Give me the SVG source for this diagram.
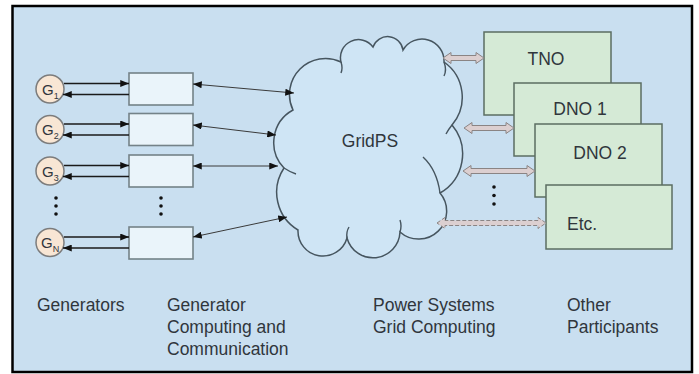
<svg xmlns="http://www.w3.org/2000/svg" width="699" height="374" viewBox="0 0 699 374">
<defs>
<marker id="ah" viewBox="0 0 10 8" refX="10" refY="4" markerWidth="9" markerHeight="7" markerUnits="userSpaceOnUse" orient="auto-start-reverse">
<path d="M0,0 L10,4 L0,8 Z" fill="#111"/>
</marker>
</defs>
<style>
.t{font-family:"Liberation Sans",Arial,sans-serif;fill:#30363c;font-size:17.5px}
.g{font-family:"Liberation Sans",Arial,sans-serif;fill:#30363c}
.gen{fill:#f8e6d4;stroke:#7c7c7c;stroke-width:1.5}
.gc{fill:#eaf4fa;stroke:#748288;stroke-width:1.6}
.op{fill:#d5ead6;stroke:#5b6e62;stroke-width:1.5}
.ln{stroke:#1a1a1a;stroke-width:1.4;fill:none}
.cl{stroke:#3a3a3a;stroke-width:1;fill:none}
.dbl{fill:#dccfd0;stroke:#8a8484;stroke-width:1}
.dot{fill:#111}
</style>
<rect x="0" y="0" width="699" height="374" fill="#fff"/>
<rect x="12.5" y="6" width="679.5" height="366" fill="#c9dff0" stroke="#000" stroke-width="2.5"/>

<g id="cloud">
<path d="M293,110 A36,36 0 0 1 341,62 A18,18 0 0 1 373,47 A15.5,15.5 0 0 1 403,50 A22,22 0 0 1 444,62 A43,43 0 0 1 452,125 A45,45 0 0 1 440,193 A28,28 0 0 1 400,232 A27,27 0 0 1 347,238 A25,25 0 0 1 298,230 A44,44 0 0 1 284,168 A37,37 0 0 1 293,110 Z" fill="#cfe5f5" stroke="#46555f" stroke-width="1.5"/>
<path d="M341,62 Q343,68 341,73 M444,62 Q447,70 444,76 M452,125 Q448,130 446,134 M423,157 Q437,170 440,193 M400,232 Q402,226 400,220 M347,238 Q346,232 349,227 M284,168 Q290,172 296,174" fill="none" stroke="#46555f" stroke-width="1.4"/>
<text class="t" x="370" y="147" text-anchor="middle">GridPS</text>
</g>

<g id="G1"><circle class="gen" cx="50" cy="89" r="14"/><text class="g" x="42" y="94.5" font-size="15">G<tspan font-size="9" dy="4">1</tspan></text></g>
<g id="G2"><circle class="gen" cx="50" cy="129.5" r="14"/><text class="g" x="42" y="135" font-size="15">G<tspan font-size="9" dy="4">2</tspan></text></g>
<g id="G3"><circle class="gen" cx="50" cy="171" r="14"/><text class="g" x="42" y="176.5" font-size="15">G<tspan font-size="9" dy="4">3</tspan></text></g>
<g id="GN"><circle class="gen" cx="50" cy="242.5" r="14"/><text class="g" x="41" y="248" font-size="15">G<tspan font-size="9" dy="4">N</tspan></text></g>

<g id="C1"><rect class="gc" x="129" y="73" width="64" height="32"/></g>
<g id="C2"><rect class="gc" x="129" y="113.5" width="64" height="32"/></g>
<g id="C3"><rect class="gc" x="129" y="155" width="64" height="32"/></g>
<g id="CN"><rect class="gc" x="129" y="227" width="64" height="32"/></g>

<g id="dots">
<circle class="dot" cx="56" cy="198" r="1.8"/><circle class="dot" cx="56" cy="206" r="1.8"/><circle class="dot" cx="56" cy="214" r="1.8"/>
<circle class="dot" cx="161" cy="198" r="1.8"/><circle class="dot" cx="161" cy="206" r="1.8"/><circle class="dot" cx="161" cy="214" r="1.8"/>
<circle class="dot" cx="494" cy="187" r="1.8"/><circle class="dot" cx="494" cy="195.5" r="1.8"/><circle class="dot" cx="494" cy="204" r="1.8"/>
</g>

<g id="TNO"><rect class="op" x="484" y="32" width="127" height="83"/><text class="t" x="546" y="65" text-anchor="middle">TNO</text></g>
<g id="DNO1"><rect class="op" x="514" y="83" width="127" height="73"/><text class="t" x="580" y="115" text-anchor="middle">DNO 1</text></g>
<g id="DNO2"><rect class="op" x="535" y="124" width="127" height="73"/><text class="t" x="600" y="159" text-anchor="middle">DNO 2</text></g>
<g id="Etc"><rect class="op" x="546" y="185" width="126" height="64"/><text class="t" x="567" y="230">Etc.</text></g>

<g id="connectors">
<line class="ln" x1="64" y1="83.5" x2="129" y2="83.5" marker-end="url(#ah)"/>
<line class="ln" x1="129" y1="94.5" x2="63" y2="94.5" marker-end="url(#ah)"/>
<line class="ln" x1="64" y1="124" x2="129" y2="124" marker-end="url(#ah)"/>
<line class="ln" x1="129" y1="135" x2="63" y2="135" marker-end="url(#ah)"/>
<line class="ln" x1="64" y1="165.5" x2="129" y2="165.5" marker-end="url(#ah)"/>
<line class="ln" x1="129" y1="176.5" x2="63" y2="176.5" marker-end="url(#ah)"/>
<line class="ln" x1="64" y1="237" x2="129" y2="237" marker-end="url(#ah)"/>
<line class="ln" x1="129" y1="248" x2="63" y2="248" marker-end="url(#ah)"/>

<line class="cl" x1="193" y1="84" x2="294" y2="93" marker-start="url(#ah)" marker-end="url(#ah)"/>
<line class="cl" x1="193" y1="125" x2="276" y2="135" marker-start="url(#ah)" marker-end="url(#ah)"/>
<line class="cl" x1="193" y1="166" x2="278" y2="166" marker-start="url(#ah)" marker-end="url(#ah)"/>
<line class="cl" x1="193" y1="237" x2="287" y2="217" marker-start="url(#ah)" marker-end="url(#ah)"/>

<path class="dbl" d="M443,58 L451,52.5 L451,55.5 L476,55.5 L476,52.5 L484,58 L476,63.5 L476,60.5 L451,60.5 L451,63.5 Z"/>
<path class="dbl" d="M464,128 L472,122.5 L472,125.5 L506,125.5 L506,122.5 L514,128 L506,133.5 L506,130.5 L472,130.5 L472,133.5 Z"/>
<path class="dbl" d="M463,171 L471,165.5 L471,168.5 L527,168.5 L527,165.5 L535,171 L527,176.5 L527,173.5 L471,173.5 L471,176.5 Z"/>
<path class="dbl" stroke-dasharray="4 2" d="M437,223 L445,217.5 L445,220.5 L538,220.5 L538,217.5 L546,223 L538,228.5 L538,225.5 L445,225.5 L445,228.5 Z"/>
</g>

<g id="labels">
<text class="t" x="37" y="311">Generators</text>
<text class="t" x="167" y="311">Generator</text>
<text class="t" x="167" y="333">Computing and</text>
<text class="t" x="167" y="355">Communication</text>
<text class="t" x="373" y="311">Power Systems</text>
<text class="t" x="373" y="333">Grid Computing</text>
<text class="t" x="567" y="311">Other</text>
<text class="t" x="567" y="333">Participants</text>
</g>
</svg>
